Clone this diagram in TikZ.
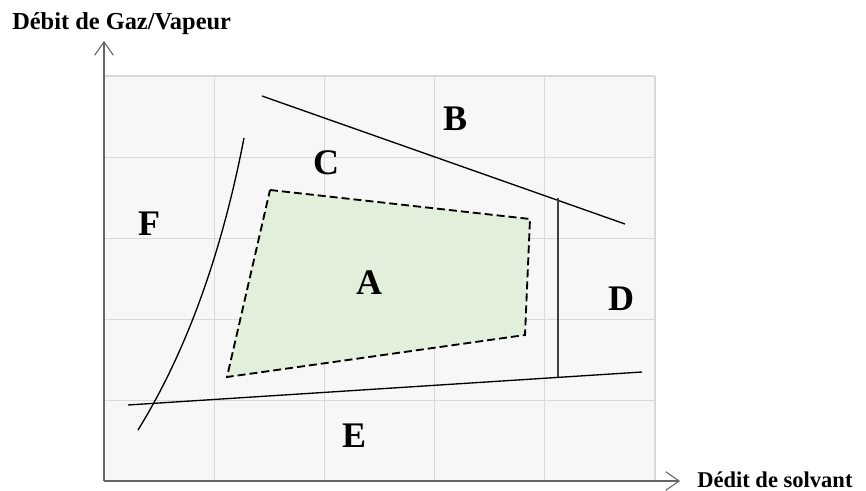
\documentclass[tikz,border=0pt]{standalone}
\usepackage{fontspec}
\setmainfont{Liberation Serif}
\usetikzlibrary{arrows.meta}
\definecolor{gridgray}{RGB}{217,217,217}
\definecolor{panelgray}{RGB}{247,247,247}
\definecolor{axisgray}{RGB}{102,102,102}
\definecolor{zonegreen}{RGB}{226,239,218}

\begin{document}
\begin{tikzpicture}[
        x=0.75pt, y=-0.75pt,
        axis/.style={draw=axisgray, line width=1.1pt, -{Straight Barb[length=10pt, width=14pt, line width=0.8pt]}},
        axislabel/.style={font=\bfseries, inner sep=0pt},
        zone/.style={font=\fontsize{27}{32}\selectfont\bfseries, inner sep=0pt},
        border/.style={draw=black, line width=1pt},
        operating/.style={draw=black, fill=zonegreen, line width=1.4pt, dash pattern=on 6pt off 3pt}
    ]
        \useasboundingbox (0,0) rectangle (866,491);

        % panel and grid
        \fill[panelgray] (104,76) rectangle (655,481);
        \foreach \i in {1,...,5}
            \draw[gridgray, line width=0.8pt] ({104+110.2*\i},76) -- ({104+110.2*\i},481);
        \foreach \j in {0,...,4}
            \draw[gridgray, line width=0.8pt] (104,{76+81.2*\j}) -- (655,{76+81.2*\j});

        % axes
        \coordinate (o) at (104,481);
        \coordinate (ytip) at (104,41);
        \coordinate (xtip) at (680,481);
        \draw[axis] (o) -- (ytip);
        \draw[axis] (o) -- (xtip);
        \node[axislabel, font=\fontsize{18.3}{22}\selectfont\bfseries, anchor=base west] (ylab) at (12,30) {Débit de Gaz/Vapeur};
        \node[axislabel, font=\fontsize{16.9}{20}\selectfont\bfseries, anchor=base west] (xlab) at (697,487) {Dédit de solvant};

        % stable zone
        \draw[operating] (270,190) -- (530,219) -- (525,335) -- (227,377) -- cycle;

        % limits
        \draw[border] (262,96) -- (625,224);
        \draw[draw=black!75, line width=1.1pt] (558,198) -- (558,378);
        \draw[border] (128,405) -- (642,372);
        \draw[border] (138,430) .. controls (185,354) and (221,257) .. (244,138);

        % zone letters
        \node[zone] (A) at (369,283) {A};
        \node[zone] (B) at (455,119) {B};
        \node[zone] (C) at (326,163) {C};
        \node[zone] (D) at (621,299) {D};
        \node[zone] (E) at (354,436) {E};
        \node[zone] (F) at (149,224) {F};
    \end{tikzpicture}
\end{document}
